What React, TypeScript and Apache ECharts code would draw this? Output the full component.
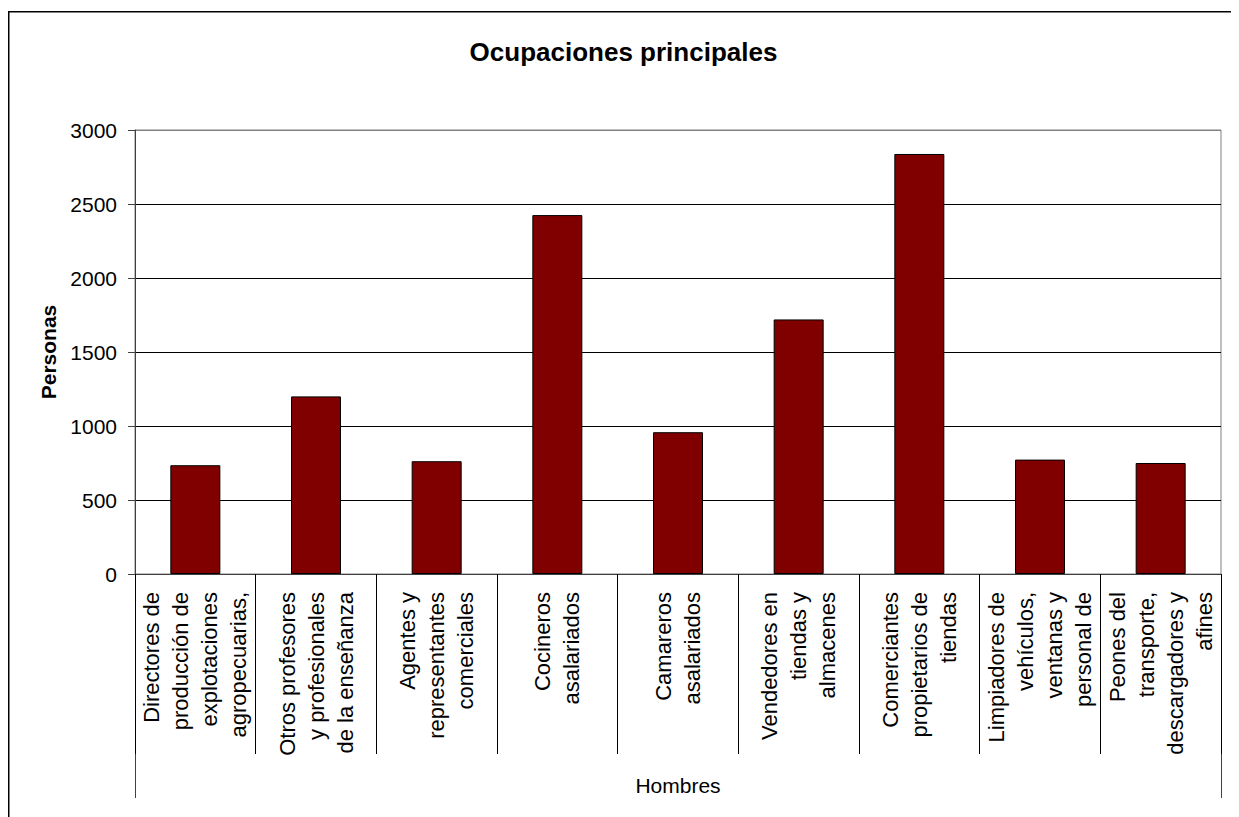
import React, { useEffect, useRef } from "react";
import * as echarts from "echarts";

const titleText = "Ocupaciones principales";
const yAxisName = "Personas";
const groupLabels = ["Hombres"];
const categoryLines: string[][] = [
  ["Directores de", "producción de", "explotaciones", "agropecuarias,"],
  ["Otros profesores", "y profesionales", "de la enseñanza"],
  ["Agentes y", "representantes", "comerciales"],
  ["Cocineros", "asalariados"],
  ["Camareros", "asalariados"],
  ["Vendedores en", "tiendas y", "almacenes"],
  ["Comerciantes", "propietarios de", "tiendas"],
  ["Limpiadores de", "vehículos,", "ventanas y", "personal de"],
  ["Peones del", "transporte,", "descargadores y", "afines"],
];
const values = [735, 1200, 762, 2425, 958, 1720, 2838, 773, 750];
const yMin = 0;
const yMax = 3000;
const yInterval = 500;

const FONT = "'Liberation Sans', Arial, Helvetica, sans-serif";

export default function App() {
  const ref = useRef<HTMLDivElement>(null);
  useEffect(() => {
    if (!ref.current) return;
    const chart = echarts.init(ref.current, undefined, { renderer: "svg" });
    const categories = categoryLines.map((l) => l.join("\n"));
    chart.setOption({
      animation: false,
      backgroundColor: "#ffffff",
      textStyle: { fontFamily: FONT },
      title: {
        text: titleText,
        left: "center",
        top: 31,
        padding: 0,
        textStyle: { fontFamily: FONT, fontSize: 26, fontWeight: "bold", color: "#000" },
      },
      graphic: [
        {
          type: "polyline",
          shape: {
            points: [
              [0.75, 830],
              [0.75, 3.75],
              [1225.25, 3.75],
              [1225.25, 830],
            ],
          },
          style: { fill: "none", stroke: "#000", lineWidth: 1.5 },
          silent: true,
        },
      ],
      grid: {
        left: 127,
        top: 122,
        width: 1086,
        height: 444,
        show: true,
        borderColor: "#808080",
        borderWidth: 1,
        backgroundColor: "transparent",
      },
      xAxis: [
        {
          type: "category",
          data: categories,
          position: "bottom",
          axisLine: { show: true, lineStyle: { color: "#404040", width: 1 } },
          axisTick: {
            show: true,
            alignWithLabel: false,
            interval: 0,
            length: 180,
            lineStyle: { color: "#000", width: 1 },
          },
          axisLabel: {
            interval: 0,
            rotate: 90,
            margin: 18,
            fontSize: 22,
            lineHeight: 29,
            color: "#000",
            fontFamily: FONT,
          },
          splitLine: { show: false },
        },
        {
          type: "category",
          data: groupLabels,
          position: "bottom",
          offset: 180,
          axisLine: { show: false },
          axisTick: {
            show: true,
            alignWithLabel: false,
            length: 44,
            lineStyle: { color: "#404040", width: 1 },
          },
          axisLabel: {
            margin: 21,
            fontSize: 21,
            color: "#000",
            fontFamily: FONT,
          },
          splitLine: { show: false },
        },
      ],
      yAxis: {
        type: "value",
        min: yMin,
        max: yMax,
        interval: yInterval,
        name: yAxisName,
        nameLocation: "middle",
        nameRotate: 90,
        nameGap: 76,
        nameTextStyle: { fontFamily: FONT, fontSize: 21, fontWeight: "bold", color: "#000" },
        axisLine: { show: true, lineStyle: { color: "#404040", width: 1 } },
        axisTick: { show: true, length: 7, lineStyle: { color: "#404040" } },
        axisLabel: {
          margin: 18,
          fontSize: 21,
          color: "#000",
          fontFamily: FONT,
          formatter: (v: number) => String(v),
        },
        splitLine: {
          show: true,
          lineStyle: {
            color: ["#000", "#000", "#000", "#000", "#000", "#000", "#808080"],
            width: 1,
          },
        },
      },
      series: [
        {
          type: "bar",
          xAxisIndex: 0,
          data: values,
          barWidth: 50,
          itemStyle: { color: "#800000", borderColor: "#000", borderWidth: 1 },
        },
      ],
    });
    return () => chart.dispose();
  }, []);
  return <div ref={ref} style={{ width: 1231, height: 809 }} />;
}
